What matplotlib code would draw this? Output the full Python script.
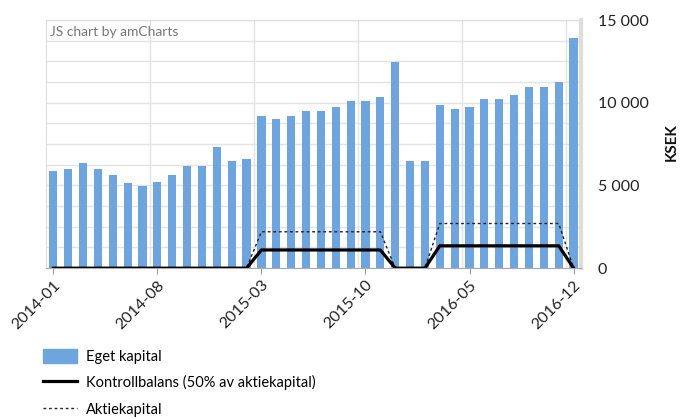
import numpy as np
import matplotlib
matplotlib.use('Agg')
import matplotlib.pyplot as plt
from matplotlib.ticker import FuncFormatter
from matplotlib.patches import Patch
from matplotlib.lines import Line2D

plt.rcParams['font.family'] = ['Lato', 'DejaVu Sans']

# månader 2014-01 .. 2016-12
months = [f'{y}-{m:02d}' for y in (2014, 2015, 2016) for m in range(1, 13)]

eget_kapital = [5900, 5980, 6340, 5980, 5650, 5130, 4970, 5210, 5650, 6180,
                6180, 7310, 6500, 6580, 9180, 9020, 9180, 9520, 9520, 9760,
                10120, 10120, 10370, 12440, 6500, 6500, 9850, 9600, 9760, 10210,
                10210, 10470, 10970, 10970, 11230, 13890]

aktiekapital = [0] * 14 + [2200] * 9 + [0] * 3 + [2700] * 9 + [0]
kontrollbalans = [v * 0.5 for v in aktiekapital]

tick_labels = ['2014-01', '2014-08', '2015-03', '2015-10', '2016-05', '2016-12']
tick_idx = [months.index(t) for t in tick_labels]

x = np.arange(len(months))

fig = plt.figure(figsize=(6.95, 4.19), dpi=100)
ax = fig.add_axes([0.066, 0.36, 0.77, 0.592])

ax.bar(x, eget_kapital, width=0.55, color='#6fa5de', zorder=2)
ax.plot(x, aktiekapital, color='#222222', linewidth=1, linestyle=(0, (2, 2)), zorder=3)
ax.plot(x, kontrollbalans, color='black', linewidth=2.3, zorder=4)

ax.set_xlim(-0.5, len(months) - 0.5)
ax.set_ylim(0, 15000)

# rutnät
for b in [6.5, 13.5, 20.5, 27.5, 34.5]:
    ax.axvline(b, color='#e3e3e3', linewidth=1, zorder=0)

ax.yaxis.tick_right()
ax.set_yticks([0, 5000, 10000, 15000], minor=False)
ax.set_yticks(np.arange(0, 15001, 1250), minor=True)
ax.grid(axis='y', which='both', color='#e3e3e3', linewidth=1, zorder=0)
ax.yaxis.set_major_formatter(FuncFormatter(lambda v, p: f'{int(v):,}'.replace(',', ' ')))
ax.tick_params(axis='y', which='both', length=0, pad=12, labelsize=11.5, labelcolor='#222222')

ax.set_xticks(tick_idx)
ax.set_xticklabels(tick_labels, rotation=45, ha='right', va='top', rotation_mode='anchor')
ax.tick_params(axis='x', length=4, color='#999999', labelsize=11.5, labelcolor='#222222', pad=3)

for s in ['left', 'top']:
    ax.spines[s].set_color('#dddddd')
ax.spines['right'].set_color('#dddddd')
ax.spines['right'].set_linewidth(3)
ax.spines['bottom'].set_color('#aaaaaa')

fig.text(0.967, 0.66, 'KSEK', rotation=90, ha='center', va='center',
         fontsize=11, fontweight='bold', color='#111111')

ax.text(0.008, 0.975, 'JS chart by amCharts', transform=ax.transAxes,
        ha='left', va='top', fontsize=10, color='#777777')

handles = [Patch(color='#6fa5de'),
           Line2D([0], [0], color='black', linewidth=2.3),
           Line2D([0], [0], color='#222222', linewidth=1, linestyle=(0, (2, 2)))]
labels = ['Eget kapital', 'Kontrollbalans (50% av aktiekapital)', 'Aktiekapital']
fig.legend(handles, labels, loc='upper left', bbox_to_anchor=(0.062, 0.168),
           frameon=False, fontsize=10.5, handlelength=2.3, handleheight=1.1,
           handletextpad=0.65, labelspacing=0.8, borderaxespad=0, borderpad=0)

fig.savefig('out.png', dpi=100)
